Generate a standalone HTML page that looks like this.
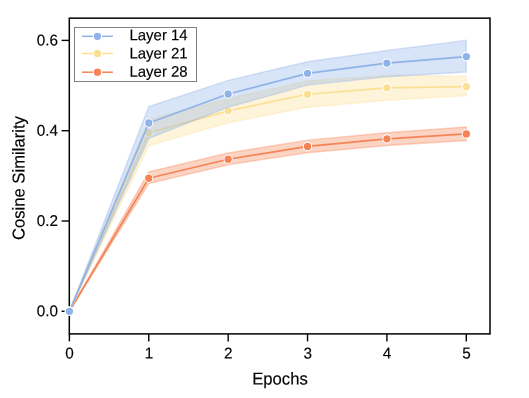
<!DOCTYPE html>
<html><head><meta charset="utf-8"><title>chart</title>
<style>
html,body{margin:0;padding:0;background:#fff;}
body{width:529px;height:398px;overflow:hidden;}
svg{display:block;will-change:transform;}
text{font-family:"Liberation Sans",sans-serif;fill:#000;stroke:#000;stroke-width:0.15px;}
</style></head><body>
<svg width="529" height="398" viewBox="0 0 529 398">
<rect x="0" y="0" width="529" height="398" fill="#ffffff"/>
<defs><clipPath id="ax"><rect x="69.30" y="18.15" width="420.70" height="315.75"/></clipPath></defs>

<rect x="69.30" y="18.15" width="420.70" height="315.75" fill="none" stroke="#000" stroke-width="1.50"/>
<line x1="69.40" y1="333.90" x2="69.40" y2="341.40" stroke="#000" stroke-width="1.39"/>
<text transform="translate(69.55 358.50) rotate(0.03) scale(1 1.030)" font-size="15.28" text-anchor="middle">0</text>
<line x1="148.78" y1="333.90" x2="148.78" y2="341.40" stroke="#000" stroke-width="1.39"/>
<text transform="translate(148.93 358.50) rotate(0.03) scale(1 1.030)" font-size="15.28" text-anchor="middle">1</text>
<line x1="228.16" y1="333.90" x2="228.16" y2="341.40" stroke="#000" stroke-width="1.39"/>
<text transform="translate(228.31 358.50) rotate(0.03) scale(1 1.030)" font-size="15.28" text-anchor="middle">2</text>
<line x1="307.54" y1="333.90" x2="307.54" y2="341.40" stroke="#000" stroke-width="1.39"/>
<text transform="translate(307.69 358.50) rotate(0.03) scale(1 1.030)" font-size="15.28" text-anchor="middle">3</text>
<line x1="386.92" y1="333.90" x2="386.92" y2="341.40" stroke="#000" stroke-width="1.39"/>
<text transform="translate(387.07 358.50) rotate(0.03) scale(1 1.030)" font-size="15.28" text-anchor="middle">4</text>
<line x1="466.30" y1="333.90" x2="466.30" y2="341.40" stroke="#000" stroke-width="1.39"/>
<text transform="translate(466.45 358.50) rotate(0.03) scale(1 1.030)" font-size="15.28" text-anchor="middle">5</text>
<line x1="61.60" y1="311.30" x2="69.30" y2="311.30" stroke="#000" stroke-width="1.39"/>
<text transform="translate(57.90 316.30) rotate(0.03) scale(1 1.030)" font-size="15.28" text-anchor="end">0.0</text>
<line x1="61.60" y1="221.00" x2="69.30" y2="221.00" stroke="#000" stroke-width="1.39"/>
<text transform="translate(57.90 226.00) rotate(0.03) scale(1 1.030)" font-size="15.28" text-anchor="end">0.2</text>
<line x1="61.60" y1="130.70" x2="69.30" y2="130.70" stroke="#000" stroke-width="1.39"/>
<text transform="translate(57.90 135.70) rotate(0.03) scale(1 1.030)" font-size="15.28" text-anchor="end">0.4</text>
<line x1="61.60" y1="40.40" x2="69.30" y2="40.40" stroke="#000" stroke-width="1.39"/>
<text transform="translate(57.90 45.40) rotate(0.03) scale(1 1.030)" font-size="15.28" text-anchor="end">0.6</text>
<path clip-path="url(#ax)" d="M69.40 311.30 L148.78 171.79 L228.16 152.96 L307.54 140.18 L386.92 132.69 L466.30 127.09 L466.30 140.54 L386.92 145.51 L307.54 152.73 L228.16 164.79 L148.78 183.62 L69.40 311.30 Z" fill="#f58355" fill-opacity="0.35" stroke="#f58355" stroke-opacity="0.35" stroke-width="1.39" stroke-linejoin="miter"/>
<path d="M69.40 311.30 L148.78 178.24 L228.16 159.23 L307.54 146.41 L386.92 138.83 L466.30 133.95" fill="none" stroke="#f58355" stroke-width="1.70" stroke-linejoin="round" stroke-linecap="butt"/>
<circle cx="69.40" cy="311.30" r="4.17" fill="#f58355" stroke="#ffffff" stroke-width="1.04"/>
<circle cx="148.78" cy="178.24" r="4.17" fill="#f58355" stroke="#ffffff" stroke-width="1.04"/>
<circle cx="228.16" cy="159.23" r="4.17" fill="#f58355" stroke="#ffffff" stroke-width="1.04"/>
<circle cx="307.54" cy="146.41" r="4.17" fill="#f58355" stroke="#ffffff" stroke-width="1.04"/>
<circle cx="386.92" cy="138.83" r="4.17" fill="#f58355" stroke="#ffffff" stroke-width="1.04"/>
<circle cx="466.30" cy="133.95" r="4.17" fill="#f58355" stroke="#ffffff" stroke-width="1.04"/>
<path clip-path="url(#ax)" d="M69.40 311.30 L148.78 119.41 L228.16 98.78 L307.54 81.03 L386.92 75.17 L466.30 76.16 L466.30 95.57 L386.92 100.22 L307.54 107.22 L228.16 122.80 L148.78 145.60 L69.40 311.30 Z" fill="#fbe094" fill-opacity="0.35" stroke="#fbe094" stroke-opacity="0.35" stroke-width="1.39" stroke-linejoin="miter"/>
<path d="M69.40 311.30 L148.78 132.73 L228.16 110.83 L307.54 94.26 L386.92 87.81 L466.30 86.59" fill="none" stroke="#fbe094" stroke-width="1.70" stroke-linejoin="round" stroke-linecap="butt"/>
<circle cx="69.40" cy="311.30" r="4.17" fill="#fbe094" stroke="#ffffff" stroke-width="1.04"/>
<circle cx="148.78" cy="132.73" r="4.17" fill="#fbe094" stroke="#ffffff" stroke-width="1.04"/>
<circle cx="228.16" cy="110.83" r="4.17" fill="#fbe094" stroke="#ffffff" stroke-width="1.04"/>
<circle cx="307.54" cy="94.26" r="4.17" fill="#fbe094" stroke="#ffffff" stroke-width="1.04"/>
<circle cx="386.92" cy="87.81" r="4.17" fill="#fbe094" stroke="#ffffff" stroke-width="1.04"/>
<circle cx="466.30" cy="86.59" r="4.17" fill="#fbe094" stroke="#ffffff" stroke-width="1.04"/>
<path clip-path="url(#ax)" d="M69.40 311.30 L148.78 106.54 L228.16 80.40 L307.54 61.76 L386.92 50.56 L466.30 40.40 L466.30 72.00 L386.92 76.75 L307.54 85.10 L228.16 107.22 L148.78 138.38 L69.40 311.30 Z" fill="#8fb3e8" fill-opacity="0.35" stroke="#8fb3e8" stroke-opacity="0.35" stroke-width="1.39" stroke-linejoin="miter"/>
<path d="M69.40 311.30 L148.78 123.02 L228.16 93.99 L307.54 73.36 L386.92 63.11 L466.30 56.56" fill="none" stroke="#8fb3e8" stroke-width="1.70" stroke-linejoin="round" stroke-linecap="butt"/>
<circle cx="69.40" cy="311.30" r="4.17" fill="#8fb3e8" stroke="#ffffff" stroke-width="1.04"/>
<circle cx="148.78" cy="123.02" r="4.17" fill="#8fb3e8" stroke="#ffffff" stroke-width="1.04"/>
<circle cx="228.16" cy="93.99" r="4.17" fill="#8fb3e8" stroke="#ffffff" stroke-width="1.04"/>
<circle cx="307.54" cy="73.36" r="4.17" fill="#8fb3e8" stroke="#ffffff" stroke-width="1.04"/>
<circle cx="386.92" cy="63.11" r="4.17" fill="#8fb3e8" stroke="#ffffff" stroke-width="1.04"/>
<circle cx="466.30" cy="56.56" r="4.17" fill="#8fb3e8" stroke="#ffffff" stroke-width="1.04"/>
<text transform="translate(280.00 384.50) rotate(0.03) scale(1 1.030)" font-size="16.67" text-anchor="middle">Epochs</text>
<text transform="translate(24.50 178.10) rotate(-90.03) scale(1 1.030)" font-size="16.67" text-anchor="middle">Cosine Similarity</text>
<rect x="74.5" y="27.5" width="122" height="54" fill="#ffffff" fill-opacity="0.8" stroke="#808080" stroke-width="1.0"/>
<line x1="82.0" y1="36.30" x2="112.9" y2="36.30" stroke="#8fb3e8" stroke-width="1.50"/>
<circle cx="97.45" cy="36.30" r="4.17" fill="#8fb3e8" stroke="#ffffff" stroke-width="1.04"/>
<text transform="translate(129.50 40.30) rotate(0.03) scale(1 1.030)" font-size="14.95" text-anchor="start">Layer 14</text>
<line x1="82.0" y1="53.50" x2="112.9" y2="53.50" stroke="#fbe094" stroke-width="1.50"/>
<circle cx="97.45" cy="53.50" r="4.17" fill="#fbe094" stroke="#ffffff" stroke-width="1.04"/>
<text transform="translate(129.50 58.40) rotate(0.03) scale(1 1.030)" font-size="14.95" text-anchor="start">Layer 21</text>
<line x1="82.0" y1="72.20" x2="112.9" y2="72.20" stroke="#f58355" stroke-width="1.50"/>
<circle cx="97.45" cy="72.20" r="4.17" fill="#f58355" stroke="#ffffff" stroke-width="1.04"/>
<text transform="translate(129.50 76.80) rotate(0.03) scale(1 1.030)" font-size="14.95" text-anchor="start">Layer 28</text>
</svg>
</body></html>
